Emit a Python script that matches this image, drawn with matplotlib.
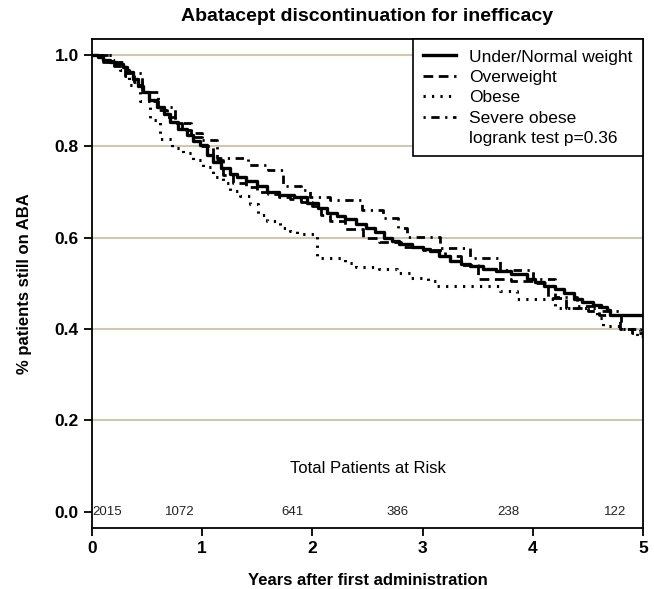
import matplotlib
matplotlib.use("Agg")
import matplotlib.pyplot as plt
from matplotlib.lines import Line2D

plt.rcParams['font.family'] = ['Liberation Sans', 'DejaVu Sans']
plt.rcParams['lines.scale_dashes'] = False

# ---- data ----
normal_t = [0, 0.05, 0.1, 0.16, 0.22, 0.28, 0.32, 0.37, 0.42, 0.46, 0.52, 0.59, 0.65,
            0.71, 0.78, 0.86, 0.92, 0.98, 1.04, 1.1, 1.17, 1.25, 1.32, 1.4, 1.5, 1.59,
            1.7, 1.83, 1.95, 2.05, 2.13, 2.22, 2.3, 2.4, 2.49, 2.57, 2.65, 2.72, 2.79,
            2.9, 3.0, 3.07, 3.15, 3.25, 3.35, 3.43, 3.55, 3.67, 3.8, 3.95, 4.02, 4.1,
            4.2, 4.28, 4.37, 4.45, 4.55, 4.62, 4.67, 4.7]
normal_s = [1.0, 0.995, 0.99, 0.985, 0.98, 0.974, 0.962, 0.947, 0.932, 0.918, 0.902,
            0.886, 0.87, 0.853, 0.838, 0.824, 0.812, 0.802, 0.782, 0.765, 0.752, 0.74,
            0.732, 0.725, 0.712, 0.70, 0.694, 0.688, 0.675, 0.665, 0.655, 0.648, 0.64,
            0.63, 0.622, 0.612, 0.60, 0.592, 0.585, 0.58, 0.575, 0.571, 0.56, 0.548,
            0.542, 0.538, 0.532, 0.527, 0.52, 0.51, 0.502, 0.495, 0.487, 0.479, 0.466,
            0.46, 0.453, 0.447, 0.442, 0.43]

over_t = [0, 0.1, 0.2, 0.3, 0.38, 0.45, 0.52, 0.6, 0.68, 0.75, 0.82, 0.9, 1.0, 1.1,
          1.19, 1.28, 1.4, 1.5, 1.6, 1.7, 1.8, 1.9, 2.0, 2.08, 2.16, 2.3, 2.46, 2.6,
          2.8, 3.0, 3.2, 3.35, 3.5, 3.8, 4.0, 4.14, 4.3, 4.5, 4.6, 4.79, 4.9]
over_s = [1.0, 0.985, 0.975, 0.955, 0.94, 0.92, 0.9, 0.88, 0.865, 0.85, 0.835, 0.82,
          0.80, 0.77, 0.738, 0.72, 0.71, 0.70, 0.695, 0.69, 0.685, 0.678, 0.67, 0.65,
          0.637, 0.618, 0.60, 0.59, 0.58, 0.572, 0.56, 0.54, 0.51, 0.505, 0.50, 0.468,
          0.446, 0.44, 0.43, 0.40, 0.39]

obese_t = [0, 0.19, 0.25, 0.34, 0.44, 0.53, 0.62, 0.73, 0.83, 0.92, 1.01, 1.10, 1.19,
           1.25, 1.34, 1.43, 1.51, 1.59, 1.71, 1.8, 1.86, 2.04, 2.3, 2.4, 2.6, 2.77,
           2.89, 3.05, 3.13, 3.7, 3.86, 4.2, 4.58, 4.64, 4.8, 4.97]
obese_s = [1.0, 0.989, 0.967, 0.934, 0.90, 0.857, 0.815, 0.797, 0.785, 0.77, 0.754,
           0.732, 0.72, 0.703, 0.692, 0.673, 0.65, 0.637, 0.622, 0.615, 0.607, 0.556,
           0.545, 0.536, 0.532, 0.523, 0.512, 0.505, 0.495, 0.483, 0.466, 0.446, 0.424,
           0.407, 0.40, 0.385]

severe_t = [0, 0.15, 0.3, 0.45, 0.6, 0.75, 0.9, 1.0, 1.13, 1.42, 1.6, 1.73, 1.9, 1.98,
            2.16, 2.45, 2.64, 2.78, 2.86, 3.16, 3.43, 3.7, 4.0, 4.2, 4.4, 4.6, 4.8, 4.95]
severe_s = [1.0, 0.985, 0.96, 0.92, 0.885, 0.85, 0.83, 0.813, 0.774, 0.758, 0.747,
            0.714, 0.705, 0.688, 0.683, 0.66, 0.644, 0.622, 0.602, 0.578, 0.556, 0.53,
            0.51, 0.47, 0.45, 0.44, 0.40, 0.385]

labels = ["Under/Normal weight", "Overweight", "Obese", "Severe obese"]
logrank_text = "logrank test p=0.36"

risk_x = [0.14, 0.8, 1.82, 2.77, 3.78, 4.75]
risk_n = ["2015", "1072", "641", "386", "238", "122"]

title = "Abatacept discontinuation for inefficacy"
xlabel = "Years after first administration"
ylabel = "% patients still on ABA"
x_end = 5.0

# ---- figure ----
fig = plt.figure(figsize=(6.54, 5.89), dpi=100)
ax = fig.add_axes([92/654, 1-528/589, (643-92)/654, (528-39)/589])
ax.set_xlim(0, 5)
ax.set_ylim(-0.036, 1.035)

for gy in [0.2, 0.4, 0.6, 0.8, 1.0]:
    ax.axhline(gy, color='#cdc8b0', lw=1.5, zorder=0)

styles = [
    dict(ls='-', lw=2.4),
    dict(ls=(0, (7, 4)), lw=2.0),
    dict(ls=(0, (1.6, 4.5)), lw=2.2),
    dict(ls=(0, (1.6, 4, 6, 4)), lw=2.0),
]
series = [(normal_t, normal_s), (over_t, over_s), (obese_t, obese_s), (severe_t, severe_s)]
handles = []
for (t, s), st, lab in zip(series, styles, labels):
    tt = list(t) + [x_end]
    ss = list(s) + [s[-1]]
    h, = ax.step(tt, ss, where='post', color='black', label=lab, **st)
    handles.append(h)

handles.append(Line2D([], [], color='none'))
leg = ax.legend(handles, labels + [logrank_text], loc='upper right',
                bbox_to_anchor=(1.0, 1.0), borderaxespad=0, frameon=True,
                fancybox=False, edgecolor='black', framealpha=1, fontsize=12.5,
                handlelength=1.9, handletextpad=0.75, labelspacing=0.3,
                borderpad=0.6)
leg.get_frame().set_linewidth(1.2)

ax.text(2.5, 0.095, "Total Patients at Risk", ha='center', va='center', fontsize=12)
for xx, n in zip(risk_x, risk_n):
    ax.text(xx, -0.002, n, ha='center', va='center', fontsize=9.5, color='#222222')

ax.set_xticks([0, 1, 2, 3, 4, 5])
ax.set_yticks([0.0, 0.2, 0.4, 0.6, 0.8, 1.0])
ax.set_yticklabels(["0.0", "0.2", "0.4", "0.6", "0.8", "1.0"])
ax.tick_params(axis='both', direction='out', length=6, width=1.3, labelsize=12.5)
for lab in ax.get_xticklabels() + ax.get_yticklabels():
    lab.set_fontweight('bold')
for sp in ax.spines.values():
    sp.set_linewidth(1.3)

ax.set_title(title, fontsize=14, fontweight='bold', pad=13)
ax.set_xlabel(xlabel, fontsize=12, fontweight='bold', labelpad=12)
ax.set_ylabel(ylabel, fontsize=12, fontweight='bold', labelpad=16)

fig.savefig("out.png", dpi=100)
